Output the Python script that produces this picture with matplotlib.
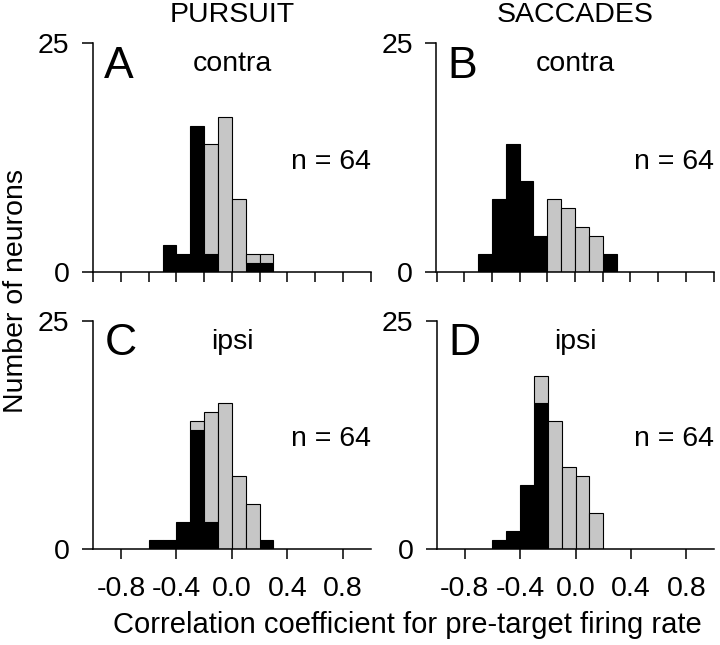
import matplotlib
matplotlib.use("Agg")
import matplotlib.pyplot as plt
import numpy as np

plt.rcParams['font.family'] = ['Liberation Sans', 'DejaVu Sans']

# ---- data ----
bin_left = [-0.7, -0.6, -0.5, -0.4, -0.3, -0.2, -0.1, 0.0, 0.1, 0.2]
bin_width = 0.1

a_black = [0, 0, 3, 2, 16, 2, 0, 0, 1, 1]
a_gray  = [0, 0, 0, 0, 0, 12, 17, 8, 1, 1]
b_black = [2, 8, 14, 10, 4, 0, 0, 0, 0, 2]
b_gray  = [0, 0, 0, 0, 0, 8, 7, 5, 4, 0]
c_black = [0, 1, 1, 3, 13, 3, 0, 0, 0, 1]
c_gray  = [0, 0, 0, 0, 1, 12, 16, 8, 5, 0]
d_black = [0, 1, 2, 7, 16, 0, 0, 0, 0, 0]
d_gray  = [0, 0, 0, 0, 3, 14, 9, 8, 4, 0]

panel_letters = ['A', 'B', 'C', 'D']
panel_sides = ['contra', 'contra', 'ipsi', 'ipsi']
column_titles = ['PURSUIT', 'SACCADES']
n_label = 'n = 64'
top_ticks = [-1.0, -0.8, -0.6, -0.4, -0.2, 0.0, 0.2, 0.4, 0.6, 0.8, 1.0]
bottom_ticks = [-0.8, -0.4, 0.0, 0.4, 0.8]
bottom_ticklabels = ['-0.8', '-0.4', '0.0', '0.4', '0.8']
y_ticks = [0, 25]
y_ticklabels = ['0', '25']
xlabel = 'Correlation coefficient for pre-target firing rate'
ylabel = 'Number of neurons'

W, H = 720, 645
fig = plt.figure(figsize=(W / 100, H / 100), dpi=100)

def rect(x0, x1, y_bottom, y_top):
    return [x0 / W, 1 - y_bottom / H, (x1 - x0) / W, (y_bottom - y_top) / H]

rects = [rect(93.3, 370.5, 272.3, 43.3), rect(436.5, 713.5, 272.3, 43.3),
         rect(93.3, 370.5, 549.3, 320.7), rect(437.0, 714.0, 549.3, 320.7)]
blacks = [a_black, b_black, c_black, d_black]
grays = [a_gray, b_gray, c_gray, d_gray]

gray_color = '#c6c6c6'
lw = 1.1
fs = 20.5

for i in range(4):
    ax = fig.add_axes(rects[i])
    blk = np.array(blacks[i], dtype=float)
    gry = np.array(grays[i], dtype=float)
    x = np.array(bin_left)
    mb = blk > 0
    ax.bar(x[mb], blk[mb], width=bin_width, align='edge', color='black',
           edgecolor='black', linewidth=0.8, zorder=2)
    mg = gry > 0
    ax.bar(x[mg], gry[mg], width=bin_width, bottom=blk[mg], align='edge',
           color=gray_color, edgecolor='black', linewidth=0.8, zorder=2)

    ax.set_xlim(-1.0, 1.0)
    ax.set_ylim(0, 25)
    for s in ['top', 'right']:
        ax.spines[s].set_visible(False)
    for s in ['left', 'bottom']:
        ax.spines[s].set_linewidth(lw)
    ax.set_yticks(y_ticks)
    ax.set_yticklabels(y_ticklabels, fontsize=fs)
    ax.tick_params(axis='y', direction='out', length=8, width=lw, pad=9)
    if i < 2:
        ax.set_xticks(top_ticks)
        ax.set_xticklabels([])
    else:
        ax.set_xticks(bottom_ticks)
        ax.set_xticklabels(bottom_ticklabels, fontsize=fs)
    ax.tick_params(axis='x', direction='out', length=7, width=lw, pad=12.5)

    ax.text(0.04, 0.99, panel_letters[i], transform=ax.transAxes,
            fontsize=32, ha='left', va='top')
    ax.text(0.5, 0.877, panel_sides[i], transform=ax.transAxes,
            fontsize=fs, ha='center', va='baseline')
    ax.text(1.0, 0.453, n_label, transform=ax.transAxes,
            fontsize=fs, ha='right', va='baseline')
    if i < 2:
        ax.text(0.5, 1.065, column_titles[i], transform=ax.transAxes,
                fontsize=fs, ha='center', va='bottom')

fig.text(407 / W, 1 - 625 / H, xlabel, fontsize=21, ha='center', va='center')
fig.text(16 / W, 1 - 291 / H, ylabel, fontsize=20.5, ha='center', va='center',
         rotation=90)

fig.savefig('out.png', dpi=100)
